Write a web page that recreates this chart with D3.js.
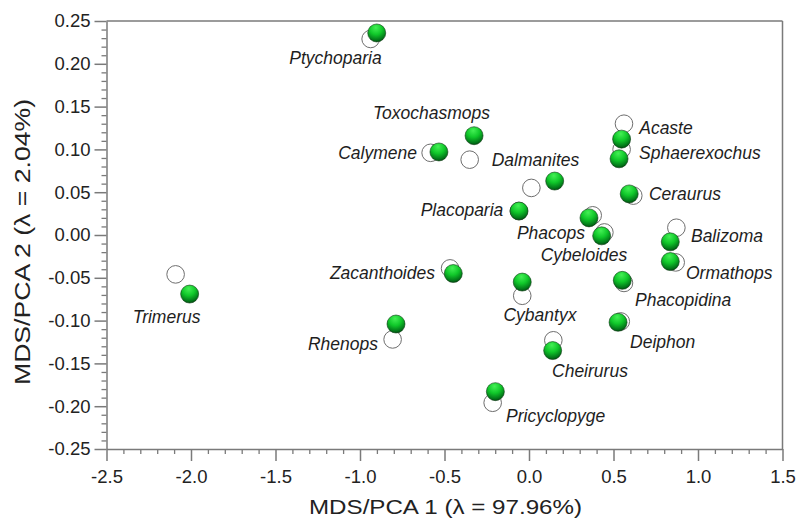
<!DOCTYPE html>
<html>
<head>
<meta charset="utf-8">
<script src="https://cdn.jsdelivr.net/npm/d3@7"></script>
<style>
html,body{margin:0;padding:0;background:#fff;}
svg{display:block;font-family:"Liberation Sans",Arial,sans-serif;}
</style>
</head>
<body>
<svg id="chart" width="798" height="519"></svg>
<script>
// ---- Data ----
const taxa = ["Ptychoparia","Toxochasmops","Calymene","Dalmanites","Placoparia","Acaste","Sphaerexochus","Ceraurus","Phacops","Cybeloides","Balizoma","Ormathops","Phacopidina","Trimerus","Zacanthoides","Rhenops","Cybantyx","Deiphon","Cheirurus","Pricyclopyge"];
// filled (green) configuration
const greenX = [-0.901,-0.325,-0.533,0.152,-0.059,0.548,0.533,0.593,0.355,0.430,0.836,0.836,0.552,-2.008,-0.448,-0.787,-0.040,0.527,0.140,-0.199];
const greenY = [0.236,0.116,0.097,0.063,0.028,0.112,0.089,0.048,0.020,-0.001,-0.008,-0.031,-0.053,-0.069,-0.045,-0.104,-0.055,-0.102,-0.135,-0.183];
// open (white) configuration
const openX = [-0.937,-0.351,-0.582,0.014,-0.060,0.562,0.548,0.617,0.377,0.446,0.872,0.868,0.562,-2.091,-0.467,-0.807,-0.040,0.543,0.144,-0.215];
const openY = [0.229,0.088,0.096,0.055,0.028,0.130,0.100,0.046,0.023,0.003,0.0085,-0.032,-0.056,-0.046,-0.039,-0.122,-0.071,-0.101,-0.123,-0.196];
const xTicks = [-2.5,-2.0,-1.5,-1.0,-0.5,0.0,0.5,1.0,1.5];
const yTicks = [-0.25,-0.20,-0.15,-0.10,-0.05,0.00,0.05,0.10,0.15,0.20,0.25];
const xTitle = "MDS/PCA 1 (\u03BB = 97.96%)";
const yTitle = "MDS/PCA 2 (\u03BB = 2.04%)";

// label placement relative to green point: [anchor, dx, dy(center)]
const labelPlace = [
  ["end",5,25],["middle",-42.5,-23],["end",-22,1],["start",-63,-20.7],["end",-15.7,-1],
  ["start",17.6,-11.3],["start",20,-5.7],["start",19.7,0],["end",-4,15.3],["middle",-17.7,19],
  ["start",20.7,-6],["start",15.7,11.3],["start",12.7,19.3],["middle",-23,22.4],["end",-18.3,-0.6],
  ["end",-18,20.3],["middle",17.7,32.3],["start",12,19.7],["middle",37.3,20.3],["start",10.7,24]
];

const svg = d3.select("#chart");
const x = d3.scaleLinear().domain([-2.5,1.5]).range([106.5,782.5]);
const y = d3.scaleLinear().domain([-0.25,0.25]).range([449,21]);
const axisColor = "#7a7a7a";

// gradient
const defs = svg.append("defs");
const grad = defs.append("radialGradient").attr("id","gball")
  .attr("cx","45%").attr("cy","25%").attr("r","80%").attr("fx","45%").attr("fy","20%");
grad.append("stop").attr("offset","0%").attr("stop-color","#44f055");
grad.append("stop").attr("offset","45%").attr("stop-color","#10c82a");
grad.append("stop").attr("offset","80%").attr("stop-color","#037a1a");
grad.append("stop").attr("offset","100%").attr("stop-color","#013f0c");

// frame (top & right)
svg.append("line").attr("x1",x(-2.5)).attr("x2",x(1.5)).attr("y1",y(0.25)).attr("y2",y(0.25))
  .attr("stroke",axisColor).attr("stroke-width",1.5);
svg.append("line").attr("x1",x(1.5)).attr("x2",x(1.5)).attr("y1",y(0.25)).attr("y2",y(-0.25))
  .attr("stroke",axisColor).attr("stroke-width",1.5);

// minor ticks
const xMinor = d3.range(-25,16).map(d=>d/10).filter(v=>!xTicks.some(t=>Math.abs(t-v)<1e-9));
const yMinor = d3.range(-25,26).map(d=>d/100).filter(v=>!yTicks.some(t=>Math.abs(t-v)<1e-9));
svg.append("g").attr("transform",`translate(0,${y(-0.25)})`)
  .call(d3.axisBottom(x).tickValues(xMinor).tickSize(5).tickFormat(""))
  .call(g=>g.select(".domain").remove())
  .call(g=>g.selectAll("line").attr("stroke",axisColor).attr("stroke-width",1.3));
svg.append("g").attr("transform",`translate(${x(-2.5)},0)`)
  .call(d3.axisLeft(y).tickValues(yMinor).tickSize(5).tickFormat(""))
  .call(g=>g.select(".domain").remove())
  .call(g=>g.selectAll("line").attr("stroke",axisColor).attr("stroke-width",1.3));

// major axes
const xa = svg.append("g").attr("transform",`translate(0,${y(-0.25)})`)
  .call(d3.axisBottom(x).tickValues(xTicks).tickSize(12).tickSizeOuter(0).tickPadding(9).tickFormat(d3.format(".1f")));
const ya = svg.append("g").attr("transform",`translate(${x(-2.5)},0)`)
  .call(d3.axisLeft(y).tickValues(yTicks).tickSize(12).tickSizeOuter(0).tickPadding(4)
    .tickFormat(d=>Math.abs(d)<1e-9?"0.00":d3.format(".2f")(d)));
[xa,ya].forEach(a=>{
  a.select(".domain").attr("stroke",axisColor).attr("stroke-width",1.5);
  a.selectAll(".tick line").attr("stroke",axisColor).attr("stroke-width",1.5);
  a.selectAll(".tick text").attr("fill","#222").style("font-size","18.5px")
    .style("font-family","'Liberation Sans',Arial,sans-serif");
});
xa.selectAll(".tick text").text(d=>d3.format(".1f")(d).replace("\u2212","-"));
ya.selectAll(".tick text").text(d=>Math.abs(d)<1e-9?"0.00":d3.format(".2f")(d).replace("\u2212","-"));

// axis titles
svg.append("text").attr("x",445.5).attr("y",514).attr("text-anchor","middle")
  .attr("textLength",273).attr("lengthAdjust","spacingAndGlyphs")
  .style("font-size","21px").attr("fill","#222").text(xTitle);
svg.append("text").attr("transform","translate(30,242) rotate(-90)").attr("text-anchor","middle")
  .attr("textLength",286).attr("lengthAdjust","spacingAndGlyphs")
  .style("font-size","22px").attr("fill","#222").text(yTitle);

// open circles
svg.append("g").selectAll("circle").data(taxa).join("circle")
  .attr("cx",(d,i)=>x(openX[i])).attr("cy",(d,i)=>y(openY[i])).attr("r",8.8)
  .attr("fill","#fff").attr("stroke","#6e6e6e").attr("stroke-width",1);
// green circles
svg.append("g").selectAll("circle").data(taxa).join("circle")
  .attr("cx",(d,i)=>x(greenX[i])).attr("cy",(d,i)=>y(greenY[i])).attr("r",9)
  .attr("fill","url(#gball)").attr("stroke","#0b3a12").attr("stroke-width",0.6);

// labels
svg.append("g").selectAll("text").data(taxa).join("text")
  .attr("x",(d,i)=>x(greenX[i])+labelPlace[i][1])
  .attr("y",(d,i)=>y(greenY[i])+labelPlace[i][2])
  .attr("dy","0.35em")
  .attr("text-anchor",(d,i)=>labelPlace[i][0])
  .style("font-size","17.5px").style("font-style","italic").attr("fill","#1e1e1e")
  .text(d=>d);
</script>
</body>
</html>
